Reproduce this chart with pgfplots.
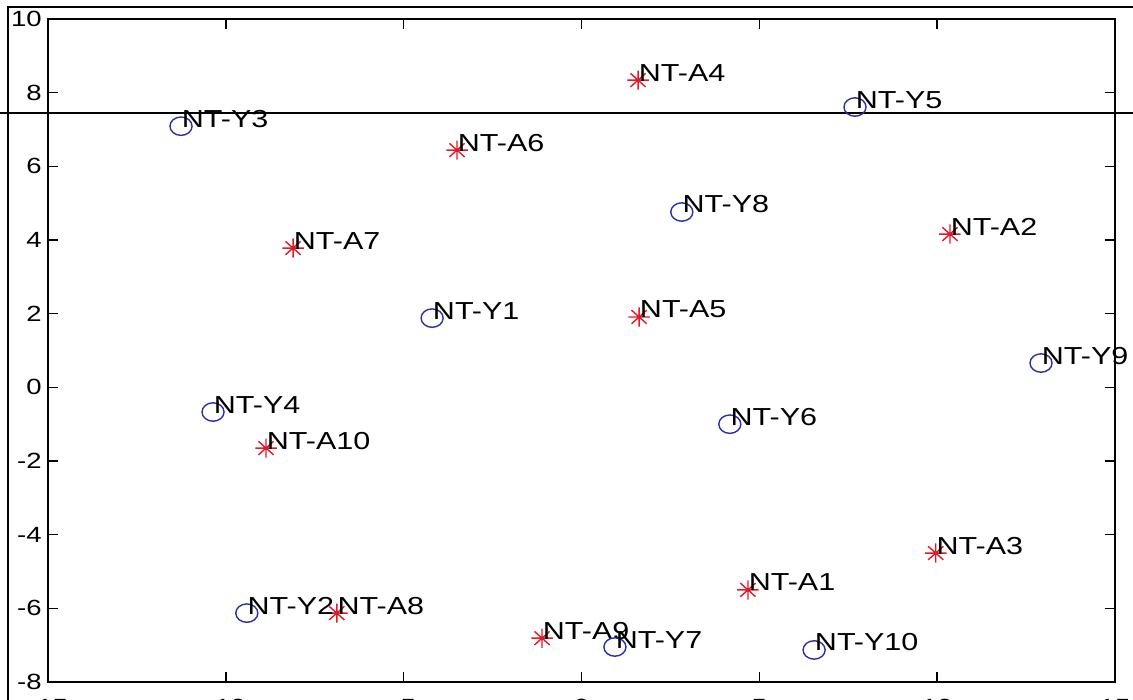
\documentclass[border=0pt]{standalone}
\usepackage{fontspec}
\setmainfont{Liberation Sans}
\usepackage{pgfplots}
\usepackage{pgfplotstable}
\pgfplotsset{compat=1.18}
\definecolor{mred}{RGB}{225,25,40}
\definecolor{mblue}{RGB}{45,45,165}
\pgfdeclareplotmark{mstar}{%
  \pgfpathmoveto{\pgfqpoint{-\pgfplotmarksize}{0pt}}\pgfpathlineto{\pgfqpoint{\pgfplotmarksize}{0pt}}%
  \pgfpathmoveto{\pgfqpoint{0pt}{-\pgfplotmarksize}}\pgfpathlineto{\pgfqpoint{0pt}{\pgfplotmarksize}}%
  \pgfpathmoveto{\pgfqpoint{-0.7071\pgfplotmarksize}{-0.7071\pgfplotmarksize}}\pgfpathlineto{\pgfqpoint{0.7071\pgfplotmarksize}{0.7071\pgfplotmarksize}}%
  \pgfpathmoveto{\pgfqpoint{-0.7071\pgfplotmarksize}{0.7071\pgfplotmarksize}}\pgfpathlineto{\pgfqpoint{0.7071\pgfplotmarksize}{-0.7071\pgfplotmarksize}}%
  \pgfusepathqstroke}

\pgfplotstableread{
x y label
1.59 8.34 NT-A4
-3.50 6.44 NT-A6
-8.11 3.78 NT-A7
10.36 4.16 NT-A2
1.62 1.91 NT-A5
-8.87 -1.65 NT-A10
9.96 -4.50 NT-A3
4.68 -5.50 NT-A1
-6.88 -6.13 NT-A8
-1.11 -6.81 NT-A9
}\redtab

\pgfplotstableread{
x y label
-11.26 7.09 NT-Y3
7.69 7.61 NT-Y5
2.82 4.76 NT-Y8
-4.20 1.88 NT-Y1
12.92 0.66 NT-Y9
-10.36 -0.67 NT-Y4
4.17 -1.00 NT-Y6
-9.41 -6.13 NT-Y2
0.94 -7.05 NT-Y7
6.54 -7.13 NT-Y10
}\bluetab

\begin{document}
\begin{tikzpicture}[x=1pt,y=1pt]
\path[use as bounding box, clip] (0,0) rectangle (566.5,350);
\begin{axis}[
  at={(24pt,9pt)}, anchor=south west,
  width=533.5pt, height=331.5pt, scale only axis,
  xmin=-15, xmax=15, ymin=-8, ymax=10,
  xtick={-15,-10,...,15}, ytick={-8,-6,...,10},
  tick align=inside, tick pos=both,
  major tick length=5pt,
  axis line style={line width=0.8pt},
  every tick/.style={black, line width=0.7pt},
  /pgf/number format/assume math mode=true,
  ticklabel style={font=\fontsize{11}{12}\selectfont, xscale=1.25},
  yticklabel style={xshift=1pt},
  xticklabel style={yshift=-5pt},
  clip=false,
]
\draw[line width=0.8pt] (axis cs:-16.4,7.45) -- (axis cs:15.6,7.45);
\addplot[only marks, mark=mstar, mark size=4.8pt, color=mred,
  mark options={xscale=1.12, line width=0.7pt},
  nodes near coords, point meta=explicit symbolic,
  nodes near coords style={anchor=base west, inner sep=0pt, text=black,
    font=\fontsize{12.3}{13}\selectfont, xscale=1.24, yshift=-0.5pt}]
  table[x=x, y=y, meta=label]{\redtab};
\addplot[only marks, mark=o, mark size=4.6pt, color=mblue,
  mark options={xscale=1.2, line width=0.7pt},
  nodes near coords, point meta=explicit symbolic,
  nodes near coords style={anchor=base west, inner sep=0pt, text=black,
    font=\fontsize{12.3}{13}\selectfont, xscale=1.24, yshift=-0.5pt}]
  table[x=x, y=y, meta=label]{\bluetab};
\end{axis}
\draw[line width=1.1pt] (4,0) -- (4,346.5) -- (566.5,346.5);
\end{tikzpicture}
\end{document}
